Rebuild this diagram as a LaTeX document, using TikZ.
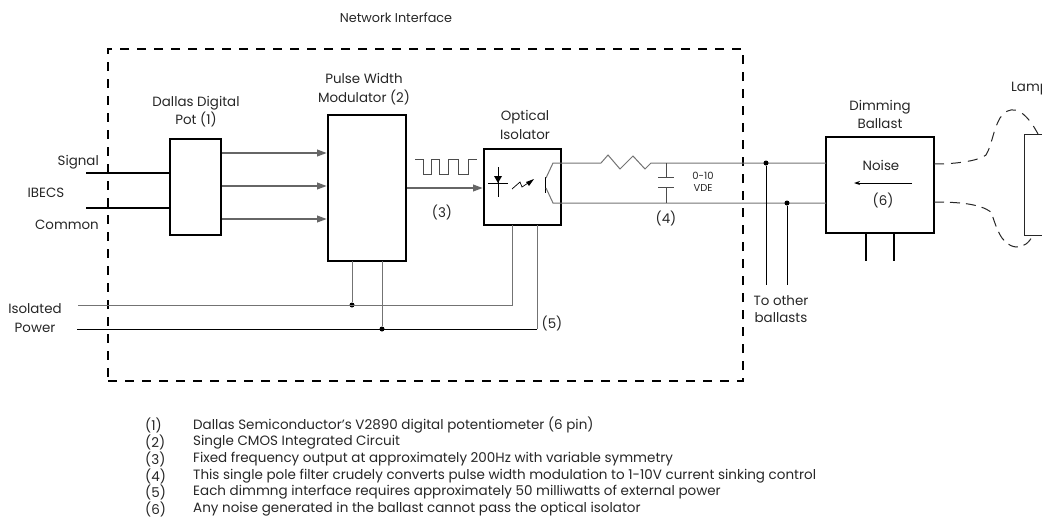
\documentclass[tikz,border=0pt]{standalone}
\usepackage{fontspec}
\setmainfont{Poppins}
\usetikzlibrary{arrows.meta}
\tikzset{
  x=1pt,y=-1pt,
  lbl/.style={inner sep=0pt,font=\fontsize{13.4}{14}\selectfont,text=black!85},
  lst/.style={inner sep=0pt,anchor=west,font=\fontsize{13.5}{13}\selectfont,text=black!85},
  blk/.style={draw=black,line width=2.4pt,fill=white,inner sep=0pt,outer sep=0pt},
  grayl/.style={draw=black!55,line width=1pt},
  grayf/.style={draw=black!60,line width=2.2pt,-{Triangle[length=10pt,width=6.5pt,fill=black!60]}},
  blkl/.style={draw=black,line width=2pt},
  dotn/.style={circle,fill=black,inner sep=0pt,minimum size=5pt},
}
\newcommand{\blkbox}[5]{\node[blk,anchor=north west,minimum width=#4-#2,minimum height=#5-#3] (#1) at (#2,#3) {};}
\begin{document}
\begin{tikzpicture}
\useasboundingbox (0,0) rectangle (1042,520);
\clip (0,0) rectangle (1042,520);
% frame
\node[draw=black,line width=2.8pt,dash pattern=on 9pt off 8pt,anchor=north west,minimum width=635pt,minimum height=332pt,inner sep=0pt,outer sep=0pt] (frame) at (108,49) {};
% nodes
\coordinate (sigL) at (86,173); \coordinate (comL) at (86,208);
\coordinate (isoL) at (78,305); \coordinate (pwrL) at (77,329);
\blkbox{pot}{170}{139}{221}{235}
\blkbox{pwm}{328}{115}{406}{261}
\blkbox{opt}{484}{149}{561}{225}
\blkbox{bal}{826}{137}{934}{233}
\node[draw=black!85,line width=1pt,fill=white,anchor=north west,minimum width=40pt,minimum height=101pt,inner sep=0pt,outer sep=0pt] (lamp) at (1024,134) {};
\draw[blkl] (sigL) -- (170,173);
\draw[blkl] (comL) -- (170,208);
\draw[grayf] (222,153) -- (327,153);
\draw[grayf] (222,186) -- (327,186);
\draw[grayf] (222,219) -- (327,219);
\draw[grayf] (407,188) -- (483,188);
% pulse train
\coordinate (pS) at (415,159);
\draw[draw=black!70,line width=.9pt] (pS) -- (423,159) -- (423,174) -- (431,174) -- (431,159) -- (439,159) -- (439,174) -- (448,174) -- (448,159) -- (458,159) -- (458,174) -- (468,174) -- (468,159) -- (477,159);
% isolator internals
\draw[black,line width=.7pt] (498,167) -- (498,197) (488,183) -- (508,183);
\fill[black] (494,176) -- (502,176) -- (498,183) -- cycle;
\draw[black,line width=.7pt] (512,189) -- (520,182) -- (522,187) -- (528,183);
\fill[black] (526,182) -- (534,179) -- (529,186) -- cycle;
\draw[black,line width=.9pt] (545,177) -- (545,193);
\draw[grayl] (546,178) -- (553,163) -- (601,163) -- (608,155) -- (620,169) -- (633,156) -- (645,169) -- (651,163) -- (826,163);
\draw[grayl] (546,188) -- (553,203) -- (826,203);
% cap
\draw[black!70,line width=.9pt] (666,163) -- (666,177) (658,177) -- (674,177) (658,187) -- (674,187) (666,187) -- (666,203);
% ballast taps
\node[dotn] (d1) at (766,163) {}; \node[dotn] (d2) at (787,203) {};
\coordinate (e1) at (766,285); \coordinate (e2) at (787,285);
\draw[black,line width=1pt] (d1) -- (e1); \draw[black,line width=1pt] (d2) -- (e2);
% power
\node[dotn] (d3) at (352,305) {}; \node[dotn] (d4) at (382,329) {};
\draw[grayl] (isoL) -- (512,305) -- (512,225);
\draw[black,line width=.9pt] (pwrL) -- (537,329);
\draw[grayl] (537,329) -- (537,225);
\draw[grayl] (d3) -- (352,261);
\draw[grayl] (d4) -- (382,261);
% ballast interior
\draw[black,line width=1pt,-{Stealth[length=6pt,width=4pt]}] (912,183) -- (854,183);
\draw[black,line width=2pt] (866,233) -- (866,261) (894,233) -- (894,261);
% lamp leads
\draw[black!85,line width=1pt,dash pattern=on 10pt off 7pt] (934,164) .. controls (960,164) and (980,160) .. (986,155) .. controls (992,145) and (993,130) .. (1000,118) .. controls (1008,106) and (1022,104) .. (1038,134);
\draw[black!85,line width=1pt,dash pattern=on 10pt off 6pt] (934,202) .. controls (960,202) and (980,204) .. (991,212) .. controls (996,225) and (1000,245) .. (1016,247) .. controls (1024,247) and (1029,243) .. (1033,235);
% labels
\node[lbl,font=\fontsize{12.8}{14}\selectfont] (t0) at (396,18) {Network Interface};
\node[lbl] (t1) at (196,103) {Dallas Digital};
\node[lbl] (t2) at (196,119) {Pot (1)};
\node[lbl] (t3) at (364,78) {Pulse Width};
\node[lbl] (t4) at (364,97) {Modulator (2)};
\node[lbl] (t5) at (525,117) {Optical};
\node[lbl] (t6) at (525,135) {Isolator};
\node[lbl] (t7) at (880,107) {Dimming};
\node[lbl] (t8) at (880,124) {Ballast};
\node[lbl,anchor=west] (t9) at (1011,89) {Lamp};
\node[lbl,anchor=east] (t10) at (99,162) {Signal};
\node[lbl] (t11) at (46,193) {IBECS};
\node[lbl,anchor=east] (t12) at (99,225) {Common};
\node[lbl] (t13) at (35,309) {Isolated};
\node[lbl] (t14) at (35,328) {Power};
\node[lbl] (t15) at (442,212) {(3)};
\node[lbl] (t16) at (666,218) {(4)};
\node[lbl] (t17) at (552,323) {(5)};
\node[lbl] (t18) at (881,165) {Noise};
\node[lbl] (t19) at (883,200) {(6)};
\node[lbl] (t20) at (781,301) {To other};
\node[lbl] (t21) at (781,318) {ballasts};
\node[lbl,font=\fontsize{10}{10}\selectfont] (t22) at (703,176) {0-10};
\node[lbl,font=\fontsize{10}{10}\selectfont] (t23) at (703,188) {VDE};
% list
\foreach \n/\y/\txt in {1/425/Dallas Semiconductor's V2890 digital potentiometer (6 pin),2/442/Single CMOS Integrated Circuit,3/459/Fixed frequency output at approximately 200Hz with variable symmetry,4/476/This single pole filter crudely converts pulse width modulation to 1-10V current sinking control,5/492/Each dimmng interface requires approximately 50 milliwatts of external power,6/509/Any noise generated in the ballast cannot pass the optical isolator}{
  \node[lst] (n\n) at (145,\y) {(\n)};
  \node[lst] (l\n) at (193,\y) {\txt};
}
\end{tikzpicture}
\end{document}
